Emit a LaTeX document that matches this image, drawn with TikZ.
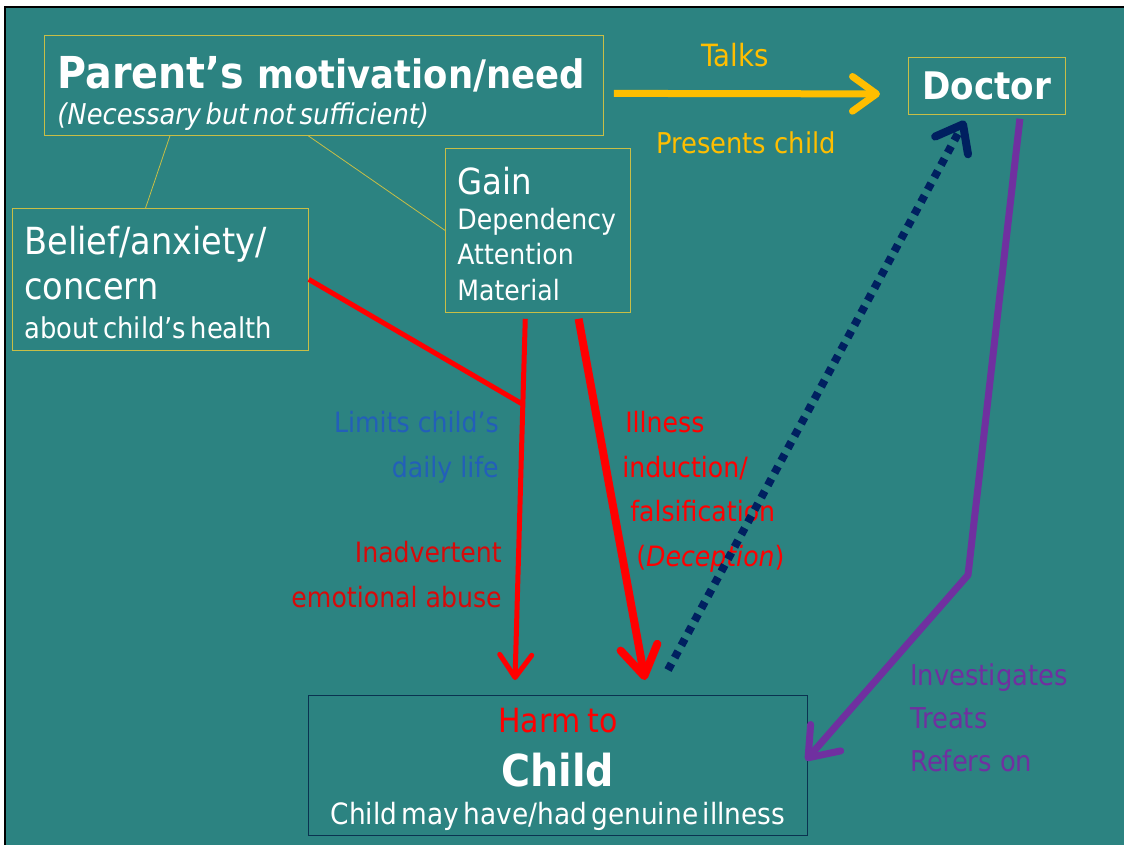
\documentclass[tikz,border=0pt]{standalone}
\usepackage{fontspec}
\setmainfont{DejaVu Sans}[FakeStretch=0.9]
\usetikzlibrary{arrows.meta,calc}

\definecolor{slate}{RGB}{44,131,129}
\definecolor{boxline}{RGB}{200,190,70}
\definecolor{gold}{RGB}{255,190,0}
\definecolor{navy}{RGB}{0,32,96}
\definecolor{violet}{RGB}{112,48,160}
\definecolor{labelblue}{RGB}{35,95,185}
\definecolor{labelred}{RGB}{215,10,10}
\definecolor{childline}{RGB}{10,50,80}

\newcommand{\lbl}{\fontsize{21pt}{33.5pt}\selectfont}
\newcommand{\fs}[2]{\fontsize{#1}{#2}\selectfont}

\begin{document}
\begin{tikzpicture}[x=0.75pt,y=0.75pt,yscale=-1,xscale=1,
  box/.style={draw=boxline, line width=0.6pt, anchor=north west, text=white, align=left},
  link/.style={draw=boxline, line width=0.6pt},
  harm/.style={draw=red, line width=3.75pt, -{Straight Barb[length=17pt,width=24pt,round]}},
  harmbig/.style={draw=red, line width=6pt, -{Straight Barb[length=22pt,width=28pt,round]}},
  label/.style={font=\lbl, inner sep=0pt}]
  %background and frame
  \useasboundingbox (0,0) rectangle (1124,845);
  \fill[white] (0,0) rectangle (1124,845);
  \fill[slate] (5,7) rectangle (1124,845);
  \draw[black, line width=1.5pt] (5,845) -- (5,7) -- (1124,7);

  %boxes
  \node[box, inner xsep=9.75pt, text width=399.75pt, minimum height=75pt] (parent) at (44,35)
    {{\fs{33pt}{36pt}\bfseries Parent’s\hspace{10pt}\fs{29.5pt}{36pt}motivation/need\par}
     {\fs{21.5pt}{27pt}\itshape (Necessary but not sufficient)\par}\vspace{-11.5pt}};
  \node[box, inner xsep=9pt, text width=204pt, minimum height=106.5pt] (belief) at (12,208)
    {{\fs{28pt}{33.75pt}Belief/anxiety/\par concern\par}
     {\fs{21.5pt}{29.25pt}about child’s health\par}\vspace{-4pt}};
  \node[box, inner xsep=9pt, text width=120.75pt, minimum height=123pt] (gain) at (445,148)
    {{\fs{27pt}{30pt}Gain\par}
     {\fs{21pt}{26.5pt}Dependency\par Attention\par Material\par}\vspace{-5pt}};
  \node[box, inner sep=0pt, minimum width=117.75pt, minimum height=42.75pt, align=center,
    font=\fs{28.5pt}{32pt}\bfseries] (doctor) at (908,57) {Doctor};
  \node[box, draw=childline, inner sep=0pt, text width=374.25pt, minimum height=105pt, align=center] (child) at (308,695)
    {{\fs{25pt}{28pt}\color{red}Harm\hspace{2pt} to\par}
     {\fs{33pt}{40.5pt}\bfseries Child\par}
     {\fs{22pt}{28.5pt}Child may have/had genuine illness\par}\vspace{-6pt}};

  %labels
  \node[label, text=gold, font=\fs{23pt}{26pt}] (talks) at (735,55) {Talks};
  \node[label, text=gold, font=\fs{21.5pt}{26pt}] (presents) at (746,143) {Presents child};
  \node[label, text=labelblue, align=right, anchor=north east] (limits) at (499,411) {Limits child’s\\daily life};
  \node[label, text=labelred, align=right, anchor=north east] (abuse) at (502,541) {Inadvertent\\emotional abuse};
  \node[label, text=red, align=left, anchor=north west] (illness) at (622,411)
    {\hspace*{2.25pt}Illness\\induction/\\\hspace*{6pt}falsification\\\hspace*{10.5pt}(\textit{Deception})};
  \node[label, text=violet, align=left, anchor=north west, font=\fs{21.5pt}{32.5pt}] (acts) at (910,663) {Investigates\\Treats\\Refers on};

  %thin links between boxes
  \draw[link] ($(parent.south west)!0.225!(parent.south east)$) -- ($(belief.north west)!0.45!(belief.north east)$);
  \draw[link] ($(parent.south west)!0.472!(parent.south east)$) -- (gain.west);

  %talks to doctor
  \coordinate (talkstart) at ($(parent.east)+(10,8)$);
  \coordinate (talkend) at ($(doctor.west)+(-28,8)$);
  \draw[gold, line width=5.25pt, -{Straight Barb[length=18pt,width=26pt,round]}] (talkstart) -- (talkend);

  %harm arrows
  \coordinate (gainl) at ($(gain.south west)!0.432!(gain.south east)+(0,6)$);
  \coordinate (gainr) at ($(gain.south west)!0.719!(gain.south east)+(0,6)$);
  \coordinate (hitl) at ($(child.north west)+(207,-15)$);
  \coordinate (hitr) at ($(child.north west)+(337,-15)$);
  \coordinate (junct) at (524,405);
  \draw[harm] (gainl) -- (hitl);
  \draw[red, line width=3.75pt] (belief.east) -- (junct);
  \draw[harmbig] (gainr) -- (hitr);

  %presents child back to doctor
  \coordinate (dotstart) at (668,670);
  \draw[navy, line width=6pt, dash pattern=on 5.5pt off 5pt,
    -{Straight Barb[length=18pt,width=28pt,round]}] (dotstart) -- ($(doctor.south)+(-22,6)$);

  %doctor acts on child
  \coordinate (bend) at (968,575);
  \draw[violet, line width=5.25pt, line join=round, -{Straight Barb[length=20pt,width=30pt,round]}]
    ($(doctor.south)+(33,4)$) -- (bend) -- ($(child.east)+(-2,-5)$);
\end{tikzpicture}
\end{document}
